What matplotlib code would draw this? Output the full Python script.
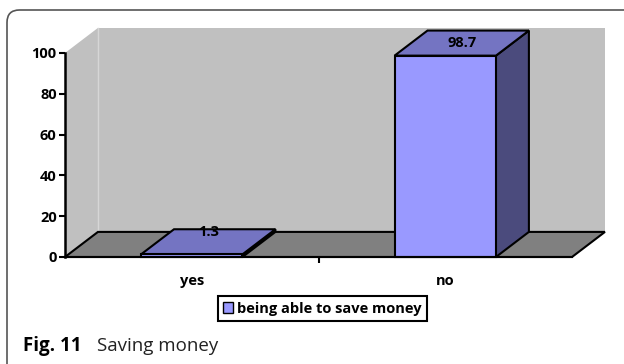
import matplotlib.pyplot as plt
from matplotlib.patches import Polygon, Rectangle, FancyBboxPatch, Patch

# --- data ---
categories = ['yes', 'no']
values = [1.3, 98.7]
series_name = 'being able to save money'
yticks = [0, 20, 40, 60, 80, 100]

# --- colours / 3d look ---
FRONT = '#9999FF'
TOP = '#7474C2'
SIDE = '#4B4B7D'
WALL = '#C0C0C0'
FLOOR = '#808080'
BAR_W = 0.40
DX, DY = 0.13, 12.3   # depth offset in data units

plt.rcParams['font.family'] = 'Open Sans'
FS = 10.5

fig = plt.figure(figsize=(6.24, 3.64), dpi=100)
ax = fig.add_axes([65 / 624, 107 / 364, 507 / 624, 204 / 364])
ax.set_xlim(-0.5, len(categories) - 0.5)
ax.set_ylim(0, 100)
ax.patch.set_visible(False)

x0, x1 = -0.5, len(categories) - 0.5

# back wall, left wall and floor
ax.add_patch(Rectangle((x0 + DX, DY), x1 - x0, 100, facecolor=WALL,
                       edgecolor='none', clip_on=False, zorder=0))
ax.plot([x0 + DX, x0 + DX], [DY, 100 + DY], color='#D6D6D6', lw=1,
        clip_on=False, zorder=0.5)
ax.add_patch(Polygon([(x0, 0), (x0, 100), (x0 + DX, 100 + DY), (x0 + DX, DY)],
                     facecolor=WALL, edgecolor='none', clip_on=False, zorder=0))
ax.add_patch(Polygon([(x0, 0), (x1, 0), (x1 + DX, DY), (x0 + DX, DY)],
                     facecolor=FLOOR, edgecolor='black', lw=1.5,
                     joinstyle='miter', clip_on=False, zorder=1))

# 3d bars
for i, v in enumerate(values):
    l, r = i - BAR_W / 2, i + BAR_W / 2
    ax.add_patch(Polygon([(r, 0), (r + DX, DY), (r + DX, v + DY), (r, v)],
                         facecolor=SIDE, edgecolor='black', lw=1.5,
                         clip_on=False, zorder=2))
    ax.add_patch(Polygon([(l, v), (r, v), (r + DX, v + DY), (l + DX, v + DY)],
                         facecolor=TOP, edgecolor='black', lw=1.5,
                         clip_on=False, zorder=2))
    ax.add_patch(Rectangle((l, 0), BAR_W, v, facecolor=FRONT,
                           edgecolor='black', lw=1.5, clip_on=False, zorder=3))
    ax.text(i + DX / 2, max(v + DY / 2, DY), f'{v:g}', ha='center',
            va='center', fontsize=FS, fontweight='bold', zorder=4)

# axes styling
for s in ['top', 'right']:
    ax.spines[s].set_visible(False)
ax.spines['left'].set_linewidth(1.8)
ax.spines['bottom'].set_linewidth(1.5)
ax.spines['bottom'].set_zorder(5)
ax.set_yticks(yticks)
ax.tick_params(axis='y', direction='out', length=4, width=1.5, pad=2,
               labelsize=FS)
ax.set_xticks(range(len(categories)))
ax.set_xticklabels(categories)
ax.set_xticks([0.5], minor=True)
ax.tick_params(axis='x', which='major', length=0, pad=12, labelsize=FS)
ax.tick_params(axis='x', which='minor', direction='out', length=4, width=1.5)
for lab in ax.get_xticklabels() + ax.get_yticklabels():
    lab.set_fontweight('bold')

leg = fig.legend(handles=[Patch(facecolor=FRONT, edgecolor='black', lw=1)],
                 labels=[series_name], loc='center',
                 bbox_to_anchor=(322.5 / 624, 1 - 308.5 / 364),
                 fancybox=False, framealpha=1, edgecolor='black',
                 handlelength=0.7, handleheight=0.7, handletextpad=0.3,
                 borderpad=0.35, prop={'weight': 'bold', 'size': FS})
leg.get_frame().set_linewidth(1.5)

# figure frame and caption
fig.patches.append(FancyBboxPatch((7 / 624, -0.2), 1.2, 354 / 364 + 0.2,
                                  boxstyle='round,pad=0,rounding_size=0.02',
                                  transform=fig.transFigure, facecolor='none',
                                  edgecolor='#555555', lw=1.2,
                                  mutation_aspect=624 / 364))
fig.text(23 / 624, 1 - 351 / 364, 'Fig. 11', fontsize=13.5, fontweight='bold',
         va='baseline')
fig.text(97 / 624, 1 - 351 / 364, 'Saving money', fontsize=13.5,
         va='baseline', color='#222222')

fig.savefig('out.png', dpi=100)
